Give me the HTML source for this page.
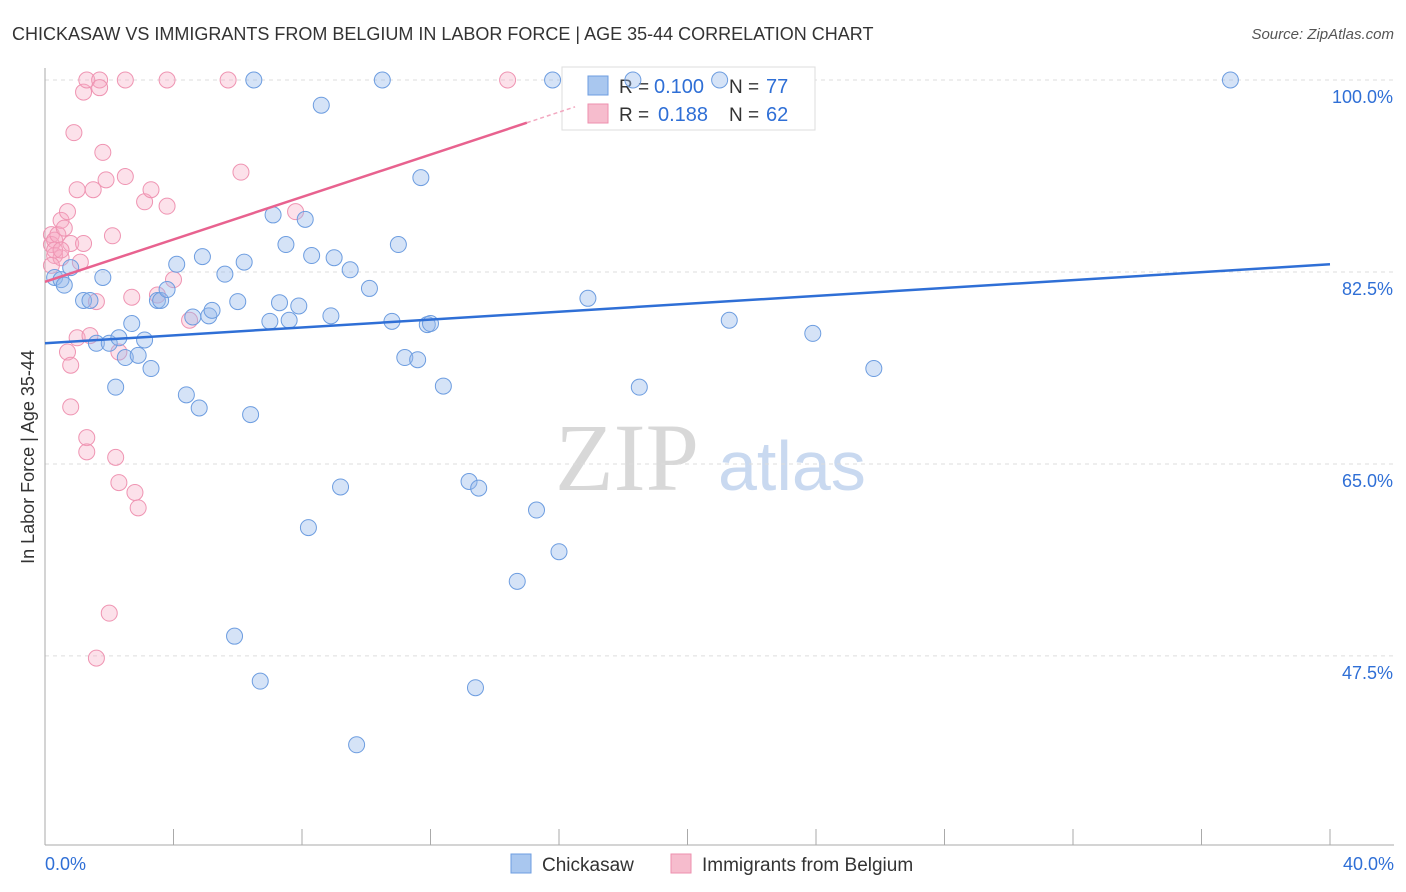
<!DOCTYPE html>
<html><head><meta charset="utf-8"><style>
body{margin:0;background:#fff;font-family:"Liberation Sans",sans-serif;}
svg{display:block}
</style></head><body>
<svg id="chart" width="1406" height="892">
<text x="12" y="40" font-size="18" fill="#333">CHICKASAW VS IMMIGRANTS FROM BELGIUM IN LABOR FORCE | AGE 35-44 CORRELATION CHART</text>
<text x="1394" y="39" font-size="15" fill="#555" font-style="italic" text-anchor="end">Source: ZipAtlas.com</text>
<text x="0" y="0" transform="translate(34,457) rotate(-90)" font-size="18" fill="#333" text-anchor="middle">In Labor Force | Age 35-44</text>
<text x="555" y="490" font-size="96" fill="#d8d8d8" font-family="Liberation Serif,serif">ZIP</text>
<text x="718" y="490" font-size="70" fill="#c9d9f0">atlas</text>
<g id="grid"></g><g id="axes"></g>
<g>
<rect x="562" y="67" width="253" height="63" fill="#fff" stroke="#ddd"/>
<rect x="588" y="76" width="20" height="19" fill="#a9c7ef" stroke="#6d9de0"/>
<rect x="588" y="104" width="20" height="19" fill="#f6bccd" stroke="#ee8fae"/>
<text x="619" y="93" font-size="19" fill="#333">R =</text>
<text x="654" y="93" font-size="20" fill="#2f6fd6">0.100</text>
<text x="729" y="93" font-size="19" fill="#333">N =</text>
<text x="766" y="93" font-size="20" fill="#2f6fd6">77</text>
<text x="619" y="121" font-size="19" fill="#333">R =</text>
<text x="658" y="121" font-size="20" fill="#2f6fd6">0.188</text>
<text x="729" y="121" font-size="19" fill="#333">N =</text>
<text x="766" y="121" font-size="20" fill="#2f6fd6">62</text>
</g>
<g id="pts"></g><g id="trend"></g>
<g>
<rect x="511" y="854" width="20" height="19" fill="#a9c7ef" stroke="#6d9de0"/>
<text x="542" y="871" font-size="19" fill="#333">Chickasaw</text>
<rect x="671" y="854" width="20" height="19" fill="#f6bccd" stroke="#ee8fae"/>
<text x="702" y="871" font-size="19" fill="#333">Immigrants from Belgium</text>
</g>
</svg>
<script>
const xTicks=[0,4,8,12,16,20,24,28,32,36,40];
const yTicks=[100,82.5,65,47.5];
const yTickLabels=["100.0%","82.5%","65.0%","47.5%"];
const blueX=[0.3,0.5,0.6,0.8,1.2,1.4,1.6,1.8,2.0,2.2,2.3,2.5,2.7,2.9,3.1,3.3,3.5,3.6,3.8,4.1,4.4,4.6,4.8,4.9,5.1,5.2,5.6,5.9,6.0,6.2,6.4,6.5,6.7,7.0,7.1,7.3,7.5,7.6,7.9,8.1,8.2,8.3,8.6,8.9,9.0,9.2,9.5,9.7,10.1,10.5,10.8,11.0,11.2,11.6,11.7,11.9,12.0,12.4,13.2,13.4,13.5,14.7,15.3,15.8,16.0,16.9,18.3,18.5,21.0,21.3,23.9,25.8,36.9];
const blueY=[82.0,81.8,81.3,82.9,79.9,79.9,76.0,82.0,76.0,72.0,76.5,74.7,77.8,74.9,76.3,73.7,79.9,79.9,80.9,83.2,71.3,78.4,70.1,83.9,78.5,79.0,82.3,49.3,79.8,83.4,69.5,100,45.2,78.0,87.7,79.7,85.0,78.1,79.4,87.3,59.2,84.0,97.7,78.5,83.8,62.9,82.7,39.4,81.0,100,78.0,85.0,74.7,74.5,91.1,77.7,77.8,72.1,63.4,44.6,62.8,54.3,60.8,100,57.0,80.1,100,72.0,100,78.1,76.9,73.7,100];
const pinkX=[0.2,0.2,0.3,0.3,0.4,0.5,0.5,0.6,0.7,0.7,0.8,0.8,0.8,0.9,1.0,1.0,1.1,1.2,1.2,1.3,1.3,1.3,1.4,1.5,1.6,1.6,1.7,1.7,1.8,1.9,2.0,2.1,2.2,2.3,2.3,2.5,2.5,2.7,2.8,2.9,3.1,3.3,3.5,3.8,3.8,4.0,4.5,5.7,6.1,7.8,14.4,0.2,0.3,0.5];
const pinkY=[85.9,85.0,85.4,84.0,85.9,83.8,87.2,86.5,88.0,75.2,85.1,74.0,70.2,95.2,90.0,76.5,83.4,85.1,98.9,67.4,66.1,100,76.7,90.0,79.8,47.3,100,99.3,93.4,90.9,51.4,85.8,65.6,75.2,63.3,91.2,100,80.2,62.4,61.0,88.9,90.0,80.4,100,88.5,81.8,78.1,100,91.6,88.0,100,83.1,84.5,84.5];
const blueTrend=[76.0,83.2]; // values at x=0 and x=40
const pinkTrend=[81.6,0.967]; // intercept, slope
const NS="http://www.w3.org/2000/svg";
const X=v=>45+v/40*1285, Y=v=>80+(100-v)*10.97;
function mk(t,a,p){const e=document.createElementNS(NS,t);for(const k in a)e.setAttribute(k,a[k]);p.appendChild(e);return e;}
const grid=document.getElementById('grid'),axes=document.getElementById('axes');
yTicks.forEach((v,i)=>{
 const l=mk('line',{x1:45,x2:1394,y1:Y(v),y2:Y(v),stroke:'#ddd','stroke-dasharray':'4 4'},grid);
 
 
 const t=mk('text',{x:1393,y:Y(v)+23,'font-size':18,fill:'#2f6fd6','text-anchor':'end'},axes);
 t.textContent=yTickLabels[i];
 
 
});
mk('line',{x1:45,x2:45,y1:68,y2:845,stroke:'#aaa'},axes);
mk('line',{x1:45,x2:1394,y1:845,y2:845,stroke:'#aaa'},axes);
xTicks.forEach(v=>{const l=mk('line',{x1:X(v),x2:X(v),y1:829,y2:845,stroke:'#aaa'},axes);
 
 });
let t=mk('text',{x:45,y:870,'font-size':18,fill:'#2f6fd6'},axes);t.textContent='0.0%';


t=mk('text',{x:1394,y:870,'font-size':18,fill:'#2f6fd6','text-anchor':'end'},axes);t.textContent='40.0%';


const pts=document.getElementById('pts');
pinkX.forEach((x,i)=>{const c=mk('circle',{cx:X(x),cy:Y(pinkY[i]),r:8,fill:'rgba(246,170,195,0.35)',stroke:'#ef94b2','stroke-width':1},pts);
 
 });
blueX.forEach((x,i)=>{const c=mk('circle',{cx:X(x),cy:Y(blueY[i]),r:8,fill:'rgba(150,185,235,0.4)',stroke:'#6d9de0','stroke-width':1},pts);
 
 });
const tr=document.getElementById('trend');
let l=mk('line',{x1:X(0),y1:Y(blueTrend[0]),x2:X(40),y2:Y(blueTrend[1]),stroke:'#2f6fd6','stroke-width':2.5},tr);


const pf=x=>pinkTrend[0]+pinkTrend[1]*x;
l=mk('line',{x1:X(0),y1:Y(pf(0)),x2:X(15),y2:Y(pf(15)),stroke:'#e8628f','stroke-width':2.5},tr);


l=mk('line',{x1:X(15),y1:Y(pf(15)),x2:X(16.5),y2:Y(pf(16.5)),stroke:'#f2a8c0','stroke-width':1.5,'stroke-dasharray':'4 3'},tr);


</script>
</body></html>
